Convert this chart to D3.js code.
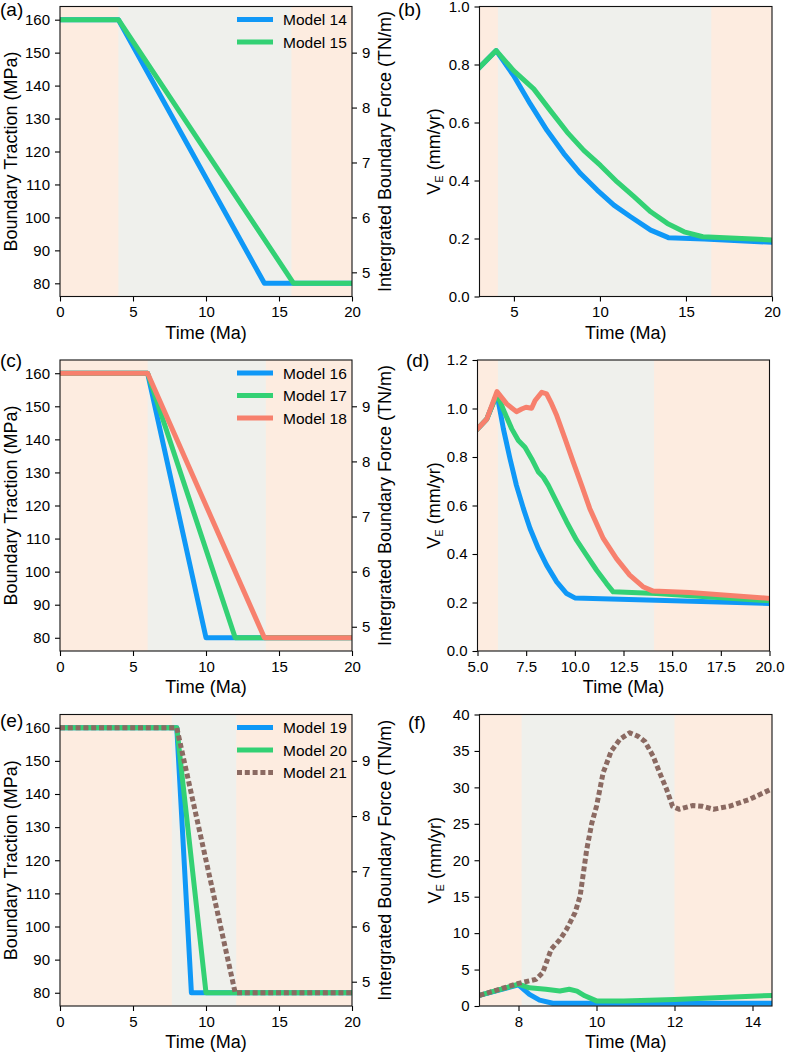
<!DOCTYPE html>
<html>
<head>
<meta charset="utf-8">
<script src="https://cdn.jsdelivr.net/npm/d3@7/dist/d3.min.js"></script>
<style>
body { margin: 0; background: #fff; }
svg text { font-family: "Liberation Sans", Arial, sans-serif; fill: #000; }
</style>
</head>
<body>
<svg id="fig" width="785" height="1053"></svg>
<script>
// boundary traction (MPa) through time (Ma)
const model14T = [[0,160],[4,160],[14,80],[20,80]]
const model15T = [[0,160],[4,160],[16,80],[20,80]]
const model16T = [[0,160],[6,160],[10,80],[20,80]]
const model17T = [[0,160],[6,160],[12,80],[20,80]]
const model18T = [[0,160],[6,160],[14,80],[20,80]]
const model19T = [[0,160],[8,160],[9,80],[20,80]]
const model20T = [[0,160],[8,160],[10,80],[20,80]]
const model21T = [[0,160],[8,160],[12,80],[20,80]]

// V_E (mm/yr) through time (Ma)
const model14V = [[3,0.79],[3.97,0.848],[4.98,0.762],[5.95,0.664],[6.92,0.573],[7.9,0.493],[8.87,0.424],[9.84,0.367],[10.81,0.315],[11.78,0.275],[12.95,0.229],[13.98,0.203],[16.06,0.198],[20,0.187]]
const model15V = [[3,0.79],[3.97,0.848],[4.98,0.779],[6.15,0.716],[7.12,0.641],[8.09,0.567],[9.06,0.504],[10.03,0.452],[11,0.395],[11.98,0.344],[12.95,0.292],[13.92,0.252],[14.89,0.223],[15.98,0.206],[20,0.195]]

const model16V = [[5,0.916],[5.48,0.957],[6,1.06],[6.33,0.916],[6.67,0.793],[7,0.683],[7.36,0.587],[7.7,0.505],[8.13,0.422],[8.55,0.354],[9.07,0.285],[9.58,0.237],[10,0.219],[20,0.196]]
const model17V = [[5,0.916],[5.48,0.957],[6,1.06],[6.42,0.978],[6.76,0.916],[7.1,0.868],[7.44,0.84],[7.78,0.793],[8.13,0.738],[8.38,0.717],[8.64,0.683],[9.07,0.614],[9.58,0.532],[10.09,0.457],[10.6,0.395],[11.12,0.333],[11.63,0.278],[11.97,0.244],[14.19,0.237],[20,0.207]]
const model18V = [[5,0.916],[5.48,0.957],[6,1.07],[6.5,1.019],[7,0.987],[7.27,0.998],[7.49,1.005],[7.78,1.001],[7.96,1.033],[8.3,1.067],[8.55,1.06],[8.81,1.019],[9.07,0.971],[9.5,0.875],[9.92,0.779],[10.35,0.683],[10.77,0.587],[11.46,0.464],[12.14,0.381],[12.82,0.313],[13.5,0.265],[14.02,0.247],[15.9,0.241],[20,0.217]]

const model19V = [[7,1.46],[8,2.9],[8.28,1.6],[8.54,0.8],[8.88,0.37],[14.5,0.37]]
const model20V = [[7,1.46],[8,3.0],[8.28,2.5],[8.7,2.3],[9.06,2.05],[9.3,2.3],[9.5,2.05],[9.7,1.4],[10,0.7],[10.7,0.7],[12,0.9],[13.2,1.15],[14.5,1.45]]
const model21V = [[7,1.46],[8,3.1],[8.45,3.66],[8.62,4.57],[8.84,7.8],[9.06,9.1],[9.23,10.5],[9.45,12.8],[9.58,15.1],[9.75,21.5],[9.88,25.1],[10,27.4],[10.17,32],[10.38,35],[10.6,36.6],[10.85,37.5],[11.07,37],[11.24,36.3],[11.45,34.3],[11.62,32],[11.8,29.7],[11.95,27.4],[12.12,27],[12.46,27.5],[12.72,27.4],[13,27],[13.4,27.4],[13.9,28.3],[14.5,29.8]]

// loading window (grey) in each panel, Ma
const windowA = [4, 15.85]
const windowB = [4.07, 16.47]
const windowC = [6, 14.1]
const windowD = [6.05, 14.07]
const windowE = [7.66, 12.07]
const windowF = [8.08, 12]

const legendA = ['Model 14', 'Model 15']
const legendC = ['Model 16', 'Model 17', 'Model 18']
const legendE = ['Model 19', 'Model 20', 'Model 21']

const tractionTicks = [80, 90, 100, 110, 120, 130, 140, 150, 160]
const forceTicks = [5, 6, 7, 8, 9]
const forcePerMPa = 0.06   // TN/m per MPa

const BLUE = '#0f98f7', GREEN = '#33d174', RED = '#f7806d', BROWN = '#8b6a62'
const PEACH = '#fdece0', GREY = '#eff0ec'

const svg = d3.select('#fig')
let clipId = 0

function drawPanel(p) {
    const g = svg.append('g')
    const x = d3.scaleLinear().domain(p.xDomain).range([p.left, p.right])
    const y = d3.scaleLinear().domain(p.yDomain).range([p.bottom, p.top])

    // background bands
    g.append('rect').attr('x', p.left).attr('y', p.top)
        .attr('width', p.right - p.left).attr('height', p.bottom - p.top)
        .attr('fill', PEACH)
    g.append('rect').attr('x', x(p.window[0])).attr('y', p.top)
        .attr('width', x(p.window[1]) - x(p.window[0])).attr('height', p.bottom - p.top)
        .attr('fill', GREY)

    const id = 'clip' + (clipId++)
    svg.append('clipPath').attr('id', id).append('rect')
        .attr('x', p.left).attr('y', p.top)
        .attr('width', p.right - p.left).attr('height', p.bottom - p.top)

    const line = d3.line().x(d => x(d[0])).y(d => y(d[1]))
    p.series.forEach(s => {
        g.append('path')
            .datum(s.data)
            .attr('clip-path', 'url(#' + id + ')')
            .attr('fill', 'none')
            .attr('stroke', s.color)
            .attr('stroke-width', 5)
            .attr('stroke-linejoin', 'round')
            .attr('stroke-linecap', s.dash ? 'butt' : 'square')
            .attr('stroke-dasharray', s.dash ? '5,2.8' : null)
            .attr('d', line)
    })

    // axes
    const xAxis = g.append('g')
        .attr('transform', 'translate(0,' + p.bottom + ')')
        .call(d3.axisBottom(x).tickValues(p.xTicks).tickFormat(p.xFmt).tickSize(5).tickPadding(5))
    const yAxis = g.append('g')
        .attr('transform', 'translate(' + p.left + ',0)')
        .call(d3.axisLeft(y).tickValues(p.yTicks).tickFormat(p.yFmt).tickSize(5).tickPadding(5))
    const axes = [xAxis, yAxis]

    if (p.twin) {
        const y2 = d3.scaleLinear()
            .domain([p.yDomain[0] * forcePerMPa, p.yDomain[1] * forcePerMPa])
            .range([p.bottom, p.top])
        axes.push(g.append('g')
            .attr('transform', 'translate(' + p.right + ',0)')
            .call(d3.axisRight(y2).tickValues(forceTicks).tickFormat(d3.format('d')).tickSize(5).tickPadding(5)))
        g.append('text')
            .attr('transform', 'translate(' + (p.right + 39) + ',' + ((p.top + p.bottom) / 2) + ') rotate(-90)')
            .attr('text-anchor', 'middle')
            .style('font-size', '18px')
            .text('Intergrated Boundary Force (TN/m)')
    }
    axes.forEach(a => {
        a.select('.domain').remove()
        a.selectAll('line').attr('stroke', '#000').attr('stroke-width', 1.1)
        a.selectAll('text').style('font-size', '15px')
            .style('font-family', '"Liberation Sans", Arial, sans-serif')
    })

    // frame
    g.append('rect').attr('x', p.left).attr('y', p.top)
        .attr('width', p.right - p.left).attr('height', p.bottom - p.top)
        .attr('fill', 'none').attr('stroke', '#111').attr('stroke-width', 1.1)

    g.append('text')
        .attr('x', (p.left + p.right) / 2).attr('y', p.bottom + 42)
        .attr('text-anchor', 'middle').style('font-size', '18px')
        .text('Time (Ma)')

    const yl = g.append('text')
        .attr('transform', 'translate(' + p.yLabelX + ',' + ((p.top + p.bottom) / 2) + ') rotate(-90)')
        .attr('text-anchor', 'middle').style('font-size', '18px')
    if (p.ve) {
        yl.append('tspan').text('V')
        yl.append('tspan').attr('dy', 3).style('font-size', '11px').text('E')
        yl.append('tspan').attr('dy', -3).text(' (mm/yr)')
    } else {
        yl.text('Boundary Traction (MPa)')
    }

    g.append('text').attr('x', p.tagX).attr('y', p.tagY)
        .style('font-size', '19px').text(p.tag)

    if (p.legend) {
        p.legend.forEach((name, i) => {
            const s = p.series[i]
            const ly = p.top + 13 + i * 22.5
            g.append('line')
                .attr('x1', p.right - 115).attr('x2', p.right - 79)
                .attr('y1', ly).attr('y2', ly)
                .attr('stroke', s.color).attr('stroke-width', 5)
                .attr('stroke-dasharray', s.dash ? '5,2.8' : null)
            g.append('text')
                .attr('x', p.right - 69).attr('y', ly).attr('dy', '0.36em')
                .style('font-size', '15.5px').text(name)
        })
    }
}

const rows = [[6.5, 296.5], [360, 651], [714.5, 1006]]
const leftCol = [60, 352], rightCol = [479.5, 772]
const f1 = d3.format('.1f'), f0 = d3.format('d')

drawPanel({ left: leftCol[0], right: leftCol[1], top: rows[0][0], bottom: rows[0][1],
    xDomain: [0, 20], yDomain: [76, 164], xTicks: [0, 5, 10, 15, 20], yTicks: tractionTicks,
    xFmt: f0, yFmt: f0, window: windowA, twin: true, yLabelX: 17, tag: '(a)', tagX: 0, tagY: 16,
    series: [{ data: model14T, color: BLUE }, { data: model15T, color: GREEN }], legend: legendA })

drawPanel({ left: rightCol[0], right: rightCol[1], top: rows[0][0], bottom: rows[0][1],
    xDomain: [3, 20], yDomain: [0, 1], xTicks: [5, 10, 15, 20], yTicks: [0, 0.2, 0.4, 0.6, 0.8, 1.0],
    xFmt: f0, yFmt: f1, window: windowB, ve: true, yLabelX: 440, tag: '(b)', tagX: 398, tagY: 16,
    series: [{ data: model14V, color: BLUE }, { data: model15V, color: GREEN }] })

drawPanel({ left: leftCol[0], right: leftCol[1], top: rows[1][0], bottom: rows[1][1],
    xDomain: [0, 20], yDomain: [76, 164], xTicks: [0, 5, 10, 15, 20], yTicks: tractionTicks,
    xFmt: f0, yFmt: f0, window: windowC, twin: true, yLabelX: 17, tag: '(c)', tagX: 0, tagY: 367,
    series: [{ data: model16T, color: BLUE }, { data: model17T, color: GREEN }, { data: model18T, color: RED }],
    legend: legendC })

drawPanel({ left: 477.5, right: 769.5, top: rows[1][0], bottom: rows[1][1],
    xDomain: [5, 20], yDomain: [0, 1.2], xTicks: [5, 7.5, 10, 12.5, 15, 17.5, 20], yTicks: [0, 0.2, 0.4, 0.6, 0.8, 1.0, 1.2],
    xFmt: f1, yFmt: f1, window: windowD, ve: true, yLabelX: 440, tag: '(d)', tagX: 406, tagY: 367,
    series: [{ data: model16V, color: BLUE }, { data: model17V, color: GREEN }, { data: model18V, color: RED }] })

drawPanel({ left: leftCol[0], right: leftCol[1], top: rows[2][0], bottom: rows[2][1],
    xDomain: [0, 20], yDomain: [76, 164], xTicks: [0, 5, 10, 15, 20], yTicks: tractionTicks,
    xFmt: f0, yFmt: f0, window: windowE, twin: true, yLabelX: 17, tag: '(e)', tagX: 0, tagY: 727,
    series: [{ data: model19T, color: BLUE }, { data: model20T, color: GREEN }, { data: model21T, color: BROWN, dash: true }],
    legend: legendE })

drawPanel({ left: rightCol[0], right: rightCol[1], top: rows[2][0], bottom: rows[2][1],
    xDomain: [7, 14.5], yDomain: [0, 40], xTicks: [8, 10, 12, 14], yTicks: [0, 5, 10, 15, 20, 25, 30, 35, 40],
    xFmt: f0, yFmt: f0, window: windowF, ve: true, yLabelX: 441, tag: '(f)', tagX: 408, tagY: 729,
    series: [{ data: model19V, color: BLUE }, { data: model20V, color: GREEN }, { data: model21V, color: BROWN, dash: true }] })
</script>
</body>
</html>
